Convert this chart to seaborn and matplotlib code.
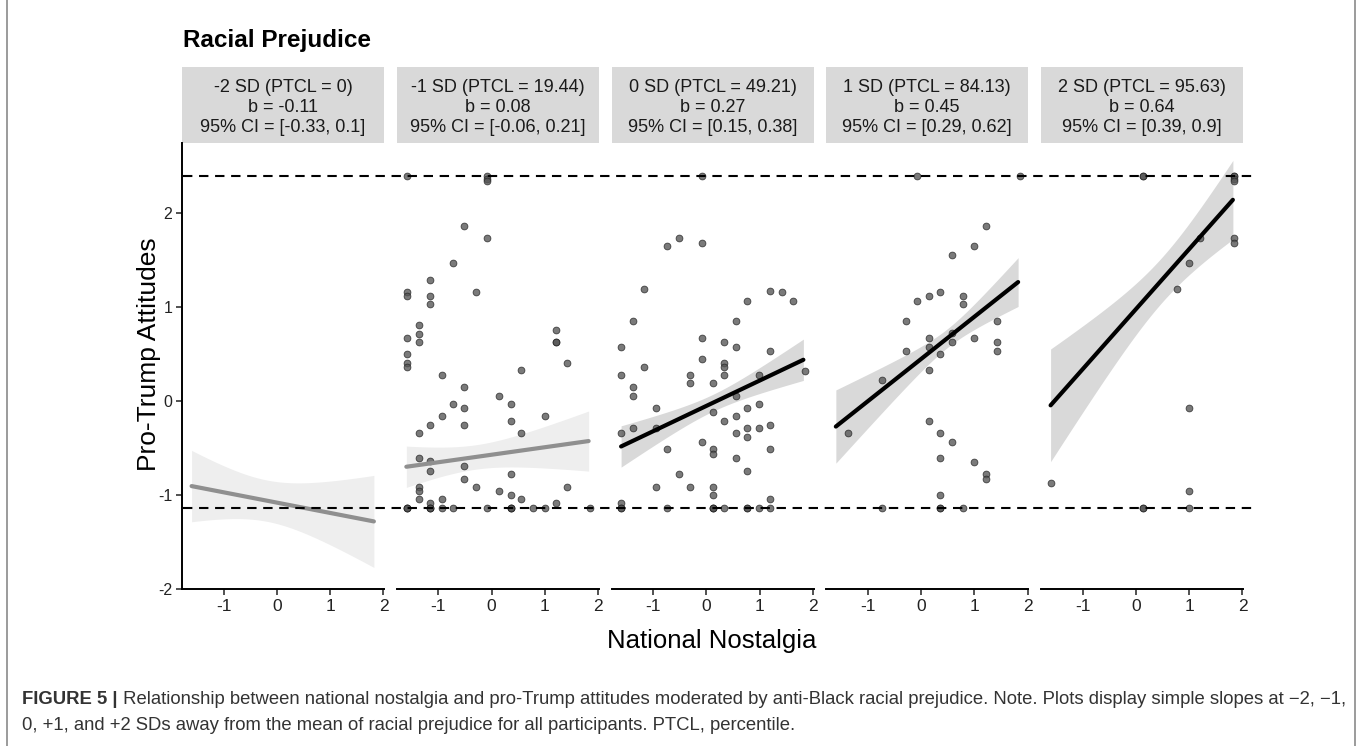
import numpy as np
import pandas as pd
import matplotlib
matplotlib.use("Agg")
import matplotlib.pyplot as plt
import seaborn as sns
from matplotlib.patches import Rectangle
from matplotlib.lines import Line2D

sns.set_theme(style="white")
plt.rcParams['font.family'] = ['Liberation Sans', 'DejaVu Sans']

# ---------------- data ----------------
strip_labels = [
    "-2 SD (PTCL = 0)\nb = -0.11\n95% CI = [-0.33, 0.1]",
    "-1 SD (PTCL = 19.44)\nb = 0.08\n95% CI = [-0.06, 0.21]",
    "0 SD (PTCL = 49.21)\nb = 0.27\n95% CI = [0.15, 0.38]",
    "1 SD (PTCL = 84.13)\nb = 0.45\n95% CI = [0.29, 0.62]",
    "2 SD (PTCL = 95.63)\nb = 0.64\n95% CI = [0.39, 0.9]",
]
slopes = [-0.11, 0.08, 0.27, 0.45, 0.64]
intercepts = [-1.08, -0.57, -0.05, 0.45, 0.98]
significant = [False, False, True, True, True]
# CI half-widths at left end, narrowest point, right end
ci_left = [0.38, 0.22, 0.22, 0.39, 0.60]
ci_min = [0.22, 0.13, 0.09, 0.10, 0.24]
ci_right = [0.49, 0.32, 0.22, 0.26, 0.42]
line_x_range = [-1.6, 1.82]
bounds = [2.40, -1.14]

x_p1 = []
y_p1 = []

x_p2 = [-1.58, -0.08, -0.08, -0.08, -0.51, -0.08, -0.72, -1.15,
        -1.58, -1.58, -1.15, -1.15, -0.30,
        -1.37, -1.37, -1.37, -1.58, 1.21, 1.21, 1.21,
        -1.58, -1.58, -1.58, 1.42, 0.56, -0.94, -0.51, 0.14,
        -0.72, 0.36, -0.51, -0.94, 1.00, -1.15, -0.51, 0.36,
        -1.37, 0.56, -1.37, -1.15, -1.15, -0.51, 0.36, -0.51,
        -1.37, -1.37, -0.30, 1.42, 0.14, 0.36,
        -1.37, -0.94, 0.56, -1.15, 1.21,
        -1.58, -1.58, -1.58, -1.15, -1.15, -1.15, -0.94, -0.72, -0.08,
        0.36, 0.36, 0.36, 0.78, 1.00, 1.85]
y_p2 = [2.40, 2.40, 2.37, 2.35, 1.87, 1.74, 1.47, 1.29,
        1.16, 1.12, 1.12, 1.03, 1.16,
        0.81, 0.72, 0.63, 0.67, 0.76, 0.63, 0.63,
        0.50, 0.41, 0.36, 0.41, 0.33, 0.28, 0.15, 0.06,
        -0.03, -0.03, -0.07, -0.16, -0.16, -0.25, -0.25, -0.21,
        -0.34, -0.34, -0.61, -0.64, -0.74, -0.69, -0.78, -0.83,
        -0.91, -0.96, -0.91, -0.91, -0.96, -1.00,
        -1.04, -1.04, -1.04, -1.08, -1.08,
        -1.14, -1.14, -1.14, -1.14, -1.14, -1.14, -1.14, -1.14, -1.14,
        -1.14, -1.14, -1.14, -1.14, -1.14, -1.14]

x_p3 = [-0.09, -0.52, -0.73, -0.09, -1.17, 1.20, 1.42, 0.77, 1.63,
        -1.38, 0.56, -0.09, 0.34, -1.60, 0.56, 1.20, -0.09,
        -1.17, 0.34, 0.34, -1.60, -0.31, 0.34, 0.99, 1.85,
        -0.31, 0.13, -1.38, -1.38, 0.56,
        -0.95, 0.77, 0.99, 0.13, 0.34, 0.56,
        -1.60, -1.38, -0.95, 0.56, 0.77, 0.77, 0.99, 1.20,
        -0.09, -0.73, 0.13, 0.13, 1.20, 0.56, 0.77, -0.52,
        -0.95, -0.31, 0.13, 0.13, -1.60, 1.20,
        -1.60, -1.60, -0.73, 0.13, 0.13, 0.13, 0.34, 0.77, 0.77, 0.99, 1.20]
y_p3 = [2.40, 1.74, 1.65, 1.69, 1.20, 1.17, 1.16, 1.07, 1.07,
        0.85, 0.85, 0.67, 0.63, 0.58, 0.58, 0.54, 0.45,
        0.36, 0.41, 0.36, 0.28, 0.28, 0.28, 0.28, 0.32,
        0.19, 0.19, 0.15, 0.06, 0.06,
        -0.07, -0.07, -0.03, -0.12, -0.21, -0.16,
        -0.34, -0.29, -0.29, -0.34, -0.29, -0.38, -0.29, -0.25,
        -0.43, -0.51, -0.51, -0.56, -0.51, -0.60, -0.74, -0.78,
        -0.91, -0.91, -0.91, -1.00, -1.08, -1.04,
        -1.14, -1.14, -1.14, -1.14, -1.14, -1.14, -1.14, -1.14, -1.14, -1.14, -1.14]

x_p4 = [-0.08, 1.86, 1.21, 1.00, 0.57,
        -0.08, 0.14, 0.35, 0.78, 0.78,
        -0.29, 1.43, 0.57, 0.14, 1.00,
        0.57, 1.43, 0.14, -0.29, 1.43,
        0.35, 0.14, -0.73,
        0.14, -1.37, 0.35, 0.57,
        0.35, 1.00, 1.21, 1.21, 0.35,
        -0.73, 0.35, 0.35, 0.78]
y_p4 = [2.40, 2.40, 1.87, 1.65, 1.56,
        1.07, 1.12, 1.16, 1.12, 1.03,
        0.85, 0.85, 0.73, 0.67, 0.67,
        0.63, 0.63, 0.58, 0.54, 0.54,
        0.50, 0.33, 0.23,
        -0.21, -0.34, -0.34, -0.43,
        -0.61, -0.65, -0.78, -0.83, -1.00,
        -1.14, -1.14, -1.14, -1.14]

x_p5 = [0.13, 0.13, 1.84, 1.84, 1.84, 1.84,
        1.21, 1.84, 1.84, 1.00, 0.77, 1.00, -1.59, 1.00,
        0.13, 0.13, 1.00]
y_p5 = [2.40, 2.40, 2.40, 2.40, 2.37, 2.35,
        1.74, 1.74, 1.69, 1.47, 1.20, -0.07, -0.87, -0.96,
        -1.14, -1.14, -1.14]

panel_x = [x_p1, x_p2, x_p3, x_p4, x_p5]
panel_y = [y_p1, y_p2, y_p3, y_p4, y_p5]

x_ticks = [-1, 0, 1, 2]
y_ticks = [-2, -1, 0, 1, 2]

title = "Racial Prejudice"
x_label = "National Nostalgia"
y_label = "Pro-Trump Attitudes"
caption_bold = "FIGURE 5 |"
caption_line1 = (" Relationship between national nostalgia and pro-Trump attitudes moderated by "
                 "anti-Black racial prejudice. Note. Plots display simple slopes at \u22122, \u22121,")
caption_line2 = "0, +1, and +2 SDs away from the mean of racial prejudice for all participants. PTCL, percentile."

# ---------------- figure ----------------
W, H = 1360, 746
fig = plt.figure(figsize=(W / 100, H / 100), dpi=100)
fig.patch.set_facecolor("white")

def fx(px):
    return px / W

def fy(py):
    return 1 - py / H

ax_top, ax_bottom = 143, 589
strip_top = 67
panel_left0 = 182
panel_step = 214.75
panel_w = 202
strip_h_axes = (ax_bottom - strip_top) / (ax_bottom - ax_top) - 1
strip_text_y = 1 + ((ax_bottom - 107.5) / (ax_bottom - ax_top) - 1)

axes = []
for i in range(5):
    left = panel_left0 + i * panel_step
    ax = fig.add_axes([fx(left), fy(ax_bottom), panel_w / W, (ax_bottom - ax_top) / H])
    axes.append(ax)
    ax.set_facecolor("white")
    ax.set_xlim(-1.78, 2.01)
    ax.set_ylim(-2, 2.75)

    # CI band and fitted line
    xl, xr = line_x_range
    h0, hl, hr = ci_min[i], ci_left[i], ci_right[i]
    r = np.sqrt((hl ** 2 - h0 ** 2) / (hr ** 2 - h0 ** 2))
    m = (xl + r * xr) / (1 + r)
    c = (hl ** 2 - h0 ** 2) / (m - xl) ** 2
    xs = np.linspace(xl, xr, 200)
    fit = intercepts[i] + slopes[i] * xs
    hw = np.sqrt(h0 ** 2 + c * (xs - m) ** 2)
    band_col = "#d9d9d9" if significant[i] else "#eeeeee"
    ax.fill_between(xs, fit - hw, fit + hw, color=band_col, lw=0, zorder=1)

    # scatter points
    if len(panel_x[i]) > 0:
        df = pd.DataFrame({"x": panel_x[i], "y": panel_y[i]})
        sns.scatterplot(data=df, x="x", y="y", ax=ax, s=24, color="#555555",
                        edgecolor="#222222", linewidth=0.6, alpha=0.78, zorder=3)

    line_df = pd.DataFrame({"x": xs, "y": fit})
    sns.lineplot(data=line_df, x="x", y="y", ax=ax,
                 color="black" if significant[i] else "#8f8f8f",
                 lw=3.0, zorder=4)

    ax.set_xlabel("")
    ax.set_ylabel("")
    ax.set_xticks(x_ticks)
    ax.set_xticklabels([str(t) for t in x_ticks])
    for s in ["top", "right"]:
        ax.spines[s].set_visible(False)
    ax.spines["bottom"].set_color("black")
    ax.spines["bottom"].set_linewidth(1.4)
    ax.tick_params(axis="x", length=4, width=1.2, color="#333333",
                   labelsize=12.5, labelcolor="#222222", pad=3, bottom=True)
    if i == 0:
        ax.set_yticks(y_ticks)
        ax.set_yticklabels([str(t) for t in y_ticks])
        ax.spines["left"].set_color("black")
        ax.spines["left"].set_linewidth(1.4)
        ax.tick_params(axis="y", length=4, width=1.2, color="#333333",
                       labelsize=11.5, labelcolor="#222222", pad=3, left=True)
    else:
        ax.spines["left"].set_visible(False)
        ax.set_yticks([])
    ax.grid(False)

    # strip
    ax.add_patch(Rectangle((0, 1), 1, strip_h_axes, transform=ax.transAxes,
                           facecolor="#d9d9d9", edgecolor="none", clip_on=False))
    ax.text(0.5, strip_text_y, strip_labels[i], transform=ax.transAxes,
            ha="center", va="center", fontsize=13, color="#1a1a1a",
            linespacing=1.22, clip_on=False)

# dashed bound lines spanning all panels (y taken from panel data scale)
for b in bounds:
    y_disp = axes[0].transData.transform((0, b))[1]
    yf = y_disp / fig.bbox.height
    fig.add_artist(Line2D([fx(183), fx(1257)], [yf, yf], color="black", lw=1.5,
                          dashes=(4.5, 3.2), transform=fig.transFigure, zorder=5))

fig.text(fx(183), fy(40), title, fontsize=17.5, fontweight="bold",
         ha="left", va="center", color="black")
fig.text(fx(149), fy(354), y_label, rotation=90, fontsize=19,
         ha="center", va="center", color="black")
fig.text(fx(712), fy(641), x_label, fontsize=18.5, ha="center", va="center", color="black")

# caption
cap_fs = 13.3
t1 = fig.text(fx(22), fy(700), caption_bold, fontsize=cap_fs, fontweight="bold",
              ha="left", va="center", color="#333333")
fig.canvas.draw()
bb = t1.get_window_extent(renderer=fig.canvas.get_renderer())
fig.text(bb.x1 / W, fy(700), caption_line1, fontsize=cap_fs, ha="left", va="center",
         color="#333333")
fig.text(fx(22), fy(725), caption_line2, fontsize=cap_fs, ha="left", va="center",
         color="#333333")

# frame lines
for xpx in (7, 1355):
    fig.add_artist(Line2D([fx(xpx), fx(xpx)], [0, 1], color="#8a8a8a", lw=1.2,
                          transform=fig.transFigure))

fig.savefig("out.png", dpi=100, facecolor="white")
